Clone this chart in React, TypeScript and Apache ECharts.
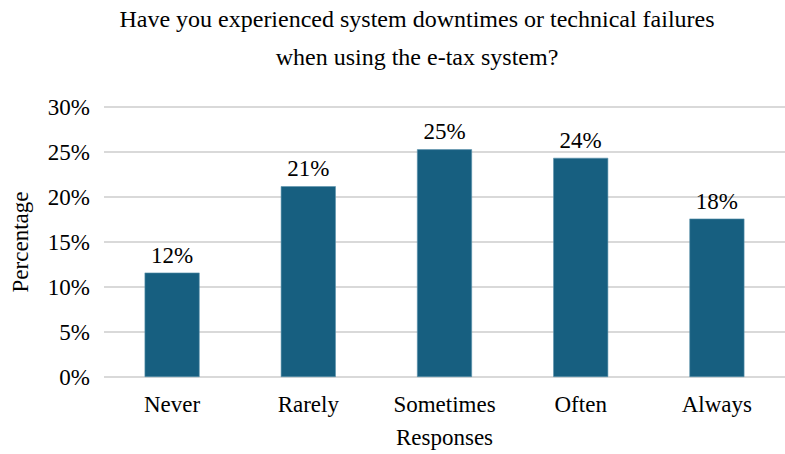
import React, { useEffect, useRef } from "react";
import * as echarts from "echarts";

const categories = ["Never", "Rarely", "Sometimes", "Often", "Always"];
const percentages = [11.6, 21.2, 25.3, 24.35, 17.6];
const titleLines = [
  "Have you experienced system downtimes or technical failures",
  "when using the e-tax system?",
];

const FONT = "'Liberation Serif', 'Times New Roman', serif";
const FS = 23;

export default function App() {
  const ref = useRef<HTMLDivElement>(null);
  useEffect(() => {
    if (!ref.current) return;
    const chart = echarts.init(ref.current, null, { renderer: "svg" });
    chart.setOption({
      animation: false,
      backgroundColor: "#ffffff",
      title: {
        text: titleLines.join("\n"),
        left: 412,
        top: -5,
        textAlign: "center",
        textStyle: {
          fontFamily: FONT,
          fontSize: 24,
          fontWeight: "normal",
          color: "#000",
          lineHeight: 38,
        },
      },
      grid: { left: 104, right: -4, top: 107, bottom: 77, containLabel: false },
      xAxis: {
        type: "category",
        data: categories,
        name: "Responses",
        nameLocation: "middle",
        nameGap: 49,
        nameTextStyle: { fontFamily: FONT, fontSize: FS, color: "#000" },
        axisLine: { show: false },
        axisTick: { show: false },
        axisLabel: { fontFamily: FONT, fontSize: FS, color: "#000", margin: 16 },
      },
      yAxis: {
        type: "value",
        min: 0,
        max: 30,
        interval: 5,
        name: "Percentage",
        nameLocation: "middle",
        nameGap: 72,
        nameTextStyle: { fontFamily: FONT, fontSize: FS, color: "#000" },
        axisLine: { show: false },
        axisTick: { show: false },
        axisLabel: {
          fontFamily: FONT,
          fontSize: FS,
          color: "#000",
          margin: 14,
          formatter: (v: number) => `${v}%`,
        },
        splitLine: { lineStyle: { color: "#d9d9d9", width: 2 } },
      },
      series: [
        {
          type: "bar",
          data: percentages,
          barWidth: 55,
          itemStyle: { color: "#175f80", borderColor: "#5d93ad", borderWidth: 0.6 },
          label: {
            show: true,
            position: "top",
            distance: 6,
            fontFamily: FONT,
            fontSize: FS,
            color: "#000",
            formatter: (p: any) => `${Math.round(p.value)}%`,
          },
        },
      ],
    });
    return () => chart.dispose();
  }, []);
  return (
    <div
      ref={ref}
      style={{ position: "fixed", left: 0, top: 0, width: 785, height: 454 }}
    />
  );
}
